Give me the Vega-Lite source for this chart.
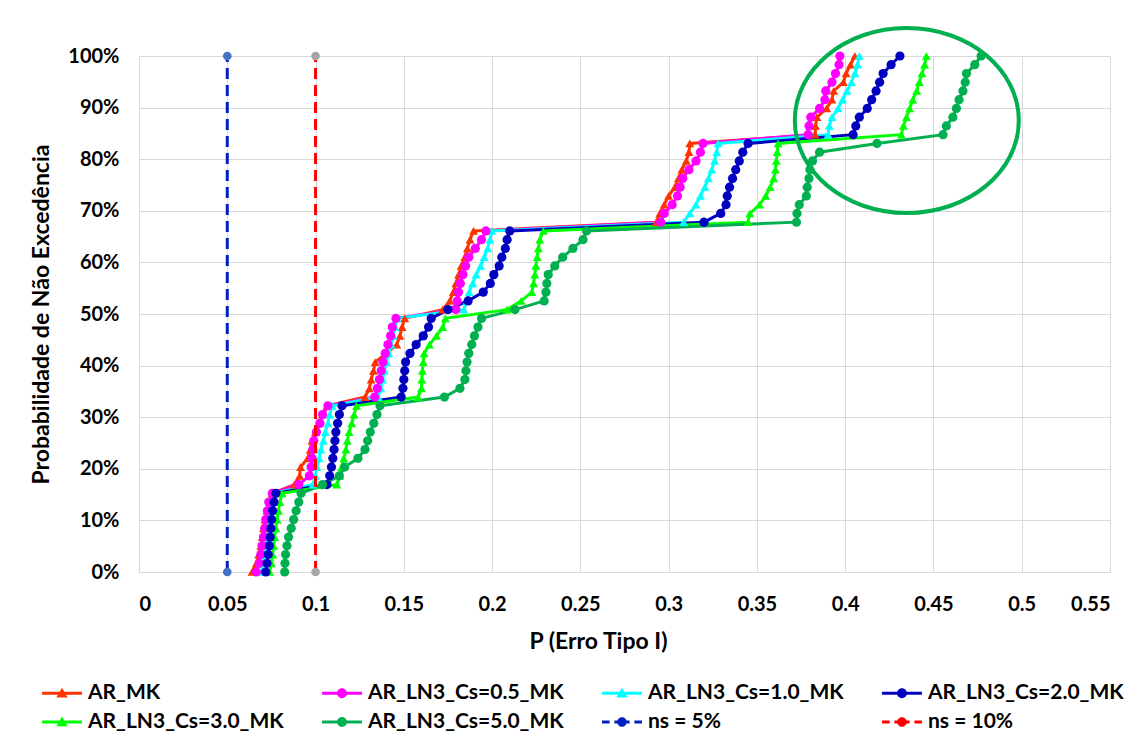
{
"$schema":"https://vega.github.io/schema/vega-lite/v6.json",
"width":971,"height":516,
"autosize":{"type":"none"},
"padding":{"left":139,"top":56,"right":30,"bottom":166},
"background":"white",
"config":{"font":"Lato","view":{"stroke":null},
 "axis":{"ticks":false,"gridColor":"#D9D9D9","gridWidth":1,"labelFont":"Lato","labelFontWeight":"bold","labelFontSize":20,"labelColor":"#000000","titleFont":"Lato","titleFontWeight":"bold","titleFontSize":23,"titleColor":"#000000"}},
"datasets":{
"cdf":[
{"s":"AR_MK","p":0,"x":0.064},{"s":"AR_MK","p":0.0169,"x":0.0665},{"s":"AR_MK","p":0.0339,"x":0.0678},{"s":"AR_MK","p":0.0508,"x":0.069},{"s":"AR_MK","p":0.0678,"x":0.0698},{"s":"AR_MK","p":0.0847,"x":0.0705},{"s":"AR_MK","p":0.1017,"x":0.0713},{"s":"AR_MK","p":0.1186,"x":0.0725},{"s":"AR_MK","p":0.1356,"x":0.074},{"s":"AR_MK","p":0.1525,"x":0.0755},
{"s":"AR_MK","p":0.1695,"x":0.088},{"s":"AR_MK","p":0.1864,"x":0.091},{"s":"AR_MK","p":0.2034,"x":0.0915},{"s":"AR_MK","p":0.2203,"x":0.0955},{"s":"AR_MK","p":0.2373,"x":0.097},{"s":"AR_MK","p":0.2542,"x":0.098},{"s":"AR_MK","p":0.2712,"x":0.1},{"s":"AR_MK","p":0.2881,"x":0.102},{"s":"AR_MK","p":0.3051,"x":0.104},{"s":"AR_MK","p":0.322,"x":0.1065},
{"s":"AR_MK","p":0.339,"x":0.128},{"s":"AR_MK","p":0.3559,"x":0.1305},{"s":"AR_MK","p":0.3729,"x":0.1315},{"s":"AR_MK","p":0.3898,"x":0.1328},{"s":"AR_MK","p":0.4068,"x":0.1338},{"s":"AR_MK","p":0.4237,"x":0.14},{"s":"AR_MK","p":0.4407,"x":0.146},{"s":"AR_MK","p":0.4576,"x":0.1478},{"s":"AR_MK","p":0.4746,"x":0.149},{"s":"AR_MK","p":0.4915,"x":0.1505},
{"s":"AR_MK","p":0.5085,"x":0.172},{"s":"AR_MK","p":0.5254,"x":0.176},{"s":"AR_MK","p":0.5424,"x":0.178},{"s":"AR_MK","p":0.5593,"x":0.1795},{"s":"AR_MK","p":0.5763,"x":0.181},{"s":"AR_MK","p":0.5932,"x":0.1825},{"s":"AR_MK","p":0.6102,"x":0.1845},{"s":"AR_MK","p":0.6271,"x":0.186},{"s":"AR_MK","p":0.6441,"x":0.1875},{"s":"AR_MK","p":0.661,"x":0.1895},
{"s":"AR_MK","p":0.678,"x":0.293},{"s":"AR_MK","p":0.6949,"x":0.295},{"s":"AR_MK","p":0.7119,"x":0.2975},{"s":"AR_MK","p":0.7288,"x":0.3},{"s":"AR_MK","p":0.7458,"x":0.3035},{"s":"AR_MK","p":0.7627,"x":0.3055},{"s":"AR_MK","p":0.7797,"x":0.3075},{"s":"AR_MK","p":0.7966,"x":0.31},{"s":"AR_MK","p":0.8136,"x":0.3115},{"s":"AR_MK","p":0.8305,"x":0.312},
{"s":"AR_MK","p":0.8475,"x":0.383},{"s":"AR_MK","p":0.8644,"x":0.3832},{"s":"AR_MK","p":0.8814,"x":0.384},{"s":"AR_MK","p":0.8983,"x":0.3895},{"s":"AR_MK","p":0.9153,"x":0.3925},{"s":"AR_MK","p":0.9322,"x":0.3935},{"s":"AR_MK","p":0.9492,"x":0.399},{"s":"AR_MK","p":0.9661,"x":0.4005},{"s":"AR_MK","p":0.9831,"x":0.403},{"s":"AR_MK","p":1,"x":0.4055},

{"s":"AR_LN3_Cs=0.5_MK","p":0,"x":0.0665},{"s":"AR_LN3_Cs=0.5_MK","p":0.0169,"x":0.068},{"s":"AR_LN3_Cs=0.5_MK","p":0.0339,"x":0.069},{"s":"AR_LN3_Cs=0.5_MK","p":0.0508,"x":0.0697},{"s":"AR_LN3_Cs=0.5_MK","p":0.0678,"x":0.0705},{"s":"AR_LN3_Cs=0.5_MK","p":0.0847,"x":0.0712},{"s":"AR_LN3_Cs=0.5_MK","p":0.1017,"x":0.0718},{"s":"AR_LN3_Cs=0.5_MK","p":0.1186,"x":0.0727},{"s":"AR_LN3_Cs=0.5_MK","p":0.1356,"x":0.0735},{"s":"AR_LN3_Cs=0.5_MK","p":0.1525,"x":0.0755},
{"s":"AR_LN3_Cs=0.5_MK","p":0.1695,"x":0.0905},{"s":"AR_LN3_Cs=0.5_MK","p":0.1864,"x":0.0965},{"s":"AR_LN3_Cs=0.5_MK","p":0.2034,"x":0.0975},{"s":"AR_LN3_Cs=0.5_MK","p":0.2203,"x":0.098},{"s":"AR_LN3_Cs=0.5_MK","p":0.2373,"x":0.0985},{"s":"AR_LN3_Cs=0.5_MK","p":0.2542,"x":0.099},{"s":"AR_LN3_Cs=0.5_MK","p":0.2712,"x":0.1005},{"s":"AR_LN3_Cs=0.5_MK","p":0.2881,"x":0.1025},{"s":"AR_LN3_Cs=0.5_MK","p":0.3051,"x":0.104},{"s":"AR_LN3_Cs=0.5_MK","p":0.322,"x":0.107},
{"s":"AR_LN3_Cs=0.5_MK","p":0.339,"x":0.1335},{"s":"AR_LN3_Cs=0.5_MK","p":0.3559,"x":0.135},{"s":"AR_LN3_Cs=0.5_MK","p":0.3729,"x":0.1362},{"s":"AR_LN3_Cs=0.5_MK","p":0.3898,"x":0.1372},{"s":"AR_LN3_Cs=0.5_MK","p":0.4068,"x":0.1382},{"s":"AR_LN3_Cs=0.5_MK","p":0.4237,"x":0.1395},{"s":"AR_LN3_Cs=0.5_MK","p":0.4407,"x":0.141},{"s":"AR_LN3_Cs=0.5_MK","p":0.4576,"x":0.1425},{"s":"AR_LN3_Cs=0.5_MK","p":0.4746,"x":0.1435},{"s":"AR_LN3_Cs=0.5_MK","p":0.4915,"x":0.1455},
{"s":"AR_LN3_Cs=0.5_MK","p":0.5085,"x":0.1795},{"s":"AR_LN3_Cs=0.5_MK","p":0.5254,"x":0.1802},{"s":"AR_LN3_Cs=0.5_MK","p":0.5424,"x":0.181},{"s":"AR_LN3_Cs=0.5_MK","p":0.5593,"x":0.182},{"s":"AR_LN3_Cs=0.5_MK","p":0.5763,"x":0.1835},{"s":"AR_LN3_Cs=0.5_MK","p":0.5932,"x":0.185},{"s":"AR_LN3_Cs=0.5_MK","p":0.6102,"x":0.1868},{"s":"AR_LN3_Cs=0.5_MK","p":0.6271,"x":0.1905},{"s":"AR_LN3_Cs=0.5_MK","p":0.6441,"x":0.194},{"s":"AR_LN3_Cs=0.5_MK","p":0.661,"x":0.1965},
{"s":"AR_LN3_Cs=0.5_MK","p":0.678,"x":0.2955},{"s":"AR_LN3_Cs=0.5_MK","p":0.6949,"x":0.2975},{"s":"AR_LN3_Cs=0.5_MK","p":0.7119,"x":0.302},{"s":"AR_LN3_Cs=0.5_MK","p":0.7288,"x":0.305},{"s":"AR_LN3_Cs=0.5_MK","p":0.7458,"x":0.3065},{"s":"AR_LN3_Cs=0.5_MK","p":0.7627,"x":0.308},{"s":"AR_LN3_Cs=0.5_MK","p":0.7797,"x":0.3115},{"s":"AR_LN3_Cs=0.5_MK","p":0.7966,"x":0.3155},{"s":"AR_LN3_Cs=0.5_MK","p":0.8136,"x":0.318},{"s":"AR_LN3_Cs=0.5_MK","p":0.8305,"x":0.3195},
{"s":"AR_LN3_Cs=0.5_MK","p":0.8475,"x":0.379},{"s":"AR_LN3_Cs=0.5_MK","p":0.8644,"x":0.3795},{"s":"AR_LN3_Cs=0.5_MK","p":0.8814,"x":0.3805},{"s":"AR_LN3_Cs=0.5_MK","p":0.8983,"x":0.3855},{"s":"AR_LN3_Cs=0.5_MK","p":0.9153,"x":0.3885},{"s":"AR_LN3_Cs=0.5_MK","p":0.9322,"x":0.389},{"s":"AR_LN3_Cs=0.5_MK","p":0.9492,"x":0.3925},{"s":"AR_LN3_Cs=0.5_MK","p":0.9661,"x":0.3945},{"s":"AR_LN3_Cs=0.5_MK","p":0.9831,"x":0.3965},{"s":"AR_LN3_Cs=0.5_MK","p":1,"x":0.397},

{"s":"AR_LN3_Cs=1.0_MK","p":0,"x":0.0693},{"s":"AR_LN3_Cs=1.0_MK","p":0.0169,"x":0.0703},{"s":"AR_LN3_Cs=1.0_MK","p":0.0339,"x":0.071},{"s":"AR_LN3_Cs=1.0_MK","p":0.0508,"x":0.0717},{"s":"AR_LN3_Cs=1.0_MK","p":0.0678,"x":0.0722},{"s":"AR_LN3_Cs=1.0_MK","p":0.0847,"x":0.0728},{"s":"AR_LN3_Cs=1.0_MK","p":0.1017,"x":0.0735},{"s":"AR_LN3_Cs=1.0_MK","p":0.1186,"x":0.0745},{"s":"AR_LN3_Cs=1.0_MK","p":0.1356,"x":0.0755},{"s":"AR_LN3_Cs=1.0_MK","p":0.1525,"x":0.0768},
{"s":"AR_LN3_Cs=1.0_MK","p":0.1695,"x":0.0985},{"s":"AR_LN3_Cs=1.0_MK","p":0.1864,"x":0.1},{"s":"AR_LN3_Cs=1.0_MK","p":0.2034,"x":0.1008},{"s":"AR_LN3_Cs=1.0_MK","p":0.2203,"x":0.102},{"s":"AR_LN3_Cs=1.0_MK","p":0.2373,"x":0.103},{"s":"AR_LN3_Cs=1.0_MK","p":0.2542,"x":0.1044},{"s":"AR_LN3_Cs=1.0_MK","p":0.2712,"x":0.1055},{"s":"AR_LN3_Cs=1.0_MK","p":0.2881,"x":0.107},{"s":"AR_LN3_Cs=1.0_MK","p":0.3051,"x":0.108},{"s":"AR_LN3_Cs=1.0_MK","p":0.322,"x":0.1095},
{"s":"AR_LN3_Cs=1.0_MK","p":0.339,"x":0.1355},{"s":"AR_LN3_Cs=1.0_MK","p":0.3559,"x":0.137},{"s":"AR_LN3_Cs=1.0_MK","p":0.3729,"x":0.138},{"s":"AR_LN3_Cs=1.0_MK","p":0.3898,"x":0.139},{"s":"AR_LN3_Cs=1.0_MK","p":0.4068,"x":0.1402},{"s":"AR_LN3_Cs=1.0_MK","p":0.4237,"x":0.1415},{"s":"AR_LN3_Cs=1.0_MK","p":0.4407,"x":0.1428},{"s":"AR_LN3_Cs=1.0_MK","p":0.4576,"x":0.144},{"s":"AR_LN3_Cs=1.0_MK","p":0.4746,"x":0.145},{"s":"AR_LN3_Cs=1.0_MK","p":0.4915,"x":0.1462},
{"s":"AR_LN3_Cs=1.0_MK","p":0.5085,"x":0.184},{"s":"AR_LN3_Cs=1.0_MK","p":0.5254,"x":0.1858},{"s":"AR_LN3_Cs=1.0_MK","p":0.5424,"x":0.187},{"s":"AR_LN3_Cs=1.0_MK","p":0.5593,"x":0.189},{"s":"AR_LN3_Cs=1.0_MK","p":0.5763,"x":0.191},{"s":"AR_LN3_Cs=1.0_MK","p":0.5932,"x":0.1935},{"s":"AR_LN3_Cs=1.0_MK","p":0.6102,"x":0.1955},{"s":"AR_LN3_Cs=1.0_MK","p":0.6271,"x":0.1975},{"s":"AR_LN3_Cs=1.0_MK","p":0.6441,"x":0.1988},{"s":"AR_LN3_Cs=1.0_MK","p":0.661,"x":0.1997},
{"s":"AR_LN3_Cs=1.0_MK","p":0.678,"x":0.3085},{"s":"AR_LN3_Cs=1.0_MK","p":0.6949,"x":0.312},{"s":"AR_LN3_Cs=1.0_MK","p":0.7119,"x":0.3155},{"s":"AR_LN3_Cs=1.0_MK","p":0.7288,"x":0.318},{"s":"AR_LN3_Cs=1.0_MK","p":0.7458,"x":0.3205},{"s":"AR_LN3_Cs=1.0_MK","p":0.7627,"x":0.3225},{"s":"AR_LN3_Cs=1.0_MK","p":0.7797,"x":0.3245},{"s":"AR_LN3_Cs=1.0_MK","p":0.7966,"x":0.326},{"s":"AR_LN3_Cs=1.0_MK","p":0.8136,"x":0.3272},{"s":"AR_LN3_Cs=1.0_MK","p":0.8305,"x":0.328},
{"s":"AR_LN3_Cs=1.0_MK","p":0.8475,"x":0.3903},{"s":"AR_LN3_Cs=1.0_MK","p":0.8644,"x":0.391},{"s":"AR_LN3_Cs=1.0_MK","p":0.8814,"x":0.3925},{"s":"AR_LN3_Cs=1.0_MK","p":0.8983,"x":0.396},{"s":"AR_LN3_Cs=1.0_MK","p":0.9153,"x":0.3985},{"s":"AR_LN3_Cs=1.0_MK","p":0.9322,"x":0.401},{"s":"AR_LN3_Cs=1.0_MK","p":0.9492,"x":0.4036},{"s":"AR_LN3_Cs=1.0_MK","p":0.9661,"x":0.4055},{"s":"AR_LN3_Cs=1.0_MK","p":0.9831,"x":0.407},{"s":"AR_LN3_Cs=1.0_MK","p":1,"x":0.408},

{"s":"AR_LN3_Cs=2.0_MK","p":0,"x":0.0718},{"s":"AR_LN3_Cs=2.0_MK","p":0.0169,"x":0.0725},{"s":"AR_LN3_Cs=2.0_MK","p":0.0339,"x":0.0732},{"s":"AR_LN3_Cs=2.0_MK","p":0.0508,"x":0.0738},{"s":"AR_LN3_Cs=2.0_MK","p":0.0678,"x":0.0743},{"s":"AR_LN3_Cs=2.0_MK","p":0.0847,"x":0.0747},{"s":"AR_LN3_Cs=2.0_MK","p":0.1017,"x":0.0751},{"s":"AR_LN3_Cs=2.0_MK","p":0.1186,"x":0.0757},{"s":"AR_LN3_Cs=2.0_MK","p":0.1356,"x":0.0765},{"s":"AR_LN3_Cs=2.0_MK","p":0.1525,"x":0.0775},
{"s":"AR_LN3_Cs=2.0_MK","p":0.1695,"x":0.1065},{"s":"AR_LN3_Cs=2.0_MK","p":0.1864,"x":0.108},{"s":"AR_LN3_Cs=2.0_MK","p":0.2034,"x":0.109},{"s":"AR_LN3_Cs=2.0_MK","p":0.2203,"x":0.1098},{"s":"AR_LN3_Cs=2.0_MK","p":0.2373,"x":0.1105},{"s":"AR_LN3_Cs=2.0_MK","p":0.2542,"x":0.111},{"s":"AR_LN3_Cs=2.0_MK","p":0.2712,"x":0.1115},{"s":"AR_LN3_Cs=2.0_MK","p":0.2881,"x":0.1125},{"s":"AR_LN3_Cs=2.0_MK","p":0.3051,"x":0.1135},{"s":"AR_LN3_Cs=2.0_MK","p":0.322,"x":0.115},
{"s":"AR_LN3_Cs=2.0_MK","p":0.339,"x":0.1485},{"s":"AR_LN3_Cs=2.0_MK","p":0.3559,"x":0.1495},{"s":"AR_LN3_Cs=2.0_MK","p":0.3729,"x":0.15},{"s":"AR_LN3_Cs=2.0_MK","p":0.3898,"x":0.1505},{"s":"AR_LN3_Cs=2.0_MK","p":0.4068,"x":0.151},{"s":"AR_LN3_Cs=2.0_MK","p":0.4237,"x":0.1535},{"s":"AR_LN3_Cs=2.0_MK","p":0.4407,"x":0.157},{"s":"AR_LN3_Cs=2.0_MK","p":0.4576,"x":0.161},{"s":"AR_LN3_Cs=2.0_MK","p":0.4746,"x":0.164},{"s":"AR_LN3_Cs=2.0_MK","p":0.4915,"x":0.1655},
{"s":"AR_LN3_Cs=2.0_MK","p":0.5085,"x":0.175},{"s":"AR_LN3_Cs=2.0_MK","p":0.5254,"x":0.1864},{"s":"AR_LN3_Cs=2.0_MK","p":0.5424,"x":0.195},{"s":"AR_LN3_Cs=2.0_MK","p":0.5593,"x":0.199},{"s":"AR_LN3_Cs=2.0_MK","p":0.5763,"x":0.201},{"s":"AR_LN3_Cs=2.0_MK","p":0.5932,"x":0.204},{"s":"AR_LN3_Cs=2.0_MK","p":0.6102,"x":0.2055},{"s":"AR_LN3_Cs=2.0_MK","p":0.6271,"x":0.2075},{"s":"AR_LN3_Cs=2.0_MK","p":0.6441,"x":0.2085},{"s":"AR_LN3_Cs=2.0_MK","p":0.661,"x":0.21},
{"s":"AR_LN3_Cs=2.0_MK","p":0.678,"x":0.32},{"s":"AR_LN3_Cs=2.0_MK","p":0.6949,"x":0.3295},{"s":"AR_LN3_Cs=2.0_MK","p":0.7119,"x":0.3325},{"s":"AR_LN3_Cs=2.0_MK","p":0.7288,"x":0.3332},{"s":"AR_LN3_Cs=2.0_MK","p":0.7458,"x":0.3345},{"s":"AR_LN3_Cs=2.0_MK","p":0.7627,"x":0.3362},{"s":"AR_LN3_Cs=2.0_MK","p":0.7797,"x":0.338},{"s":"AR_LN3_Cs=2.0_MK","p":0.7966,"x":0.34},{"s":"AR_LN3_Cs=2.0_MK","p":0.8136,"x":0.342},{"s":"AR_LN3_Cs=2.0_MK","p":0.8305,"x":0.345},
{"s":"AR_LN3_Cs=2.0_MK","p":0.8475,"x":0.4045},{"s":"AR_LN3_Cs=2.0_MK","p":0.8644,"x":0.406},{"s":"AR_LN3_Cs=2.0_MK","p":0.8814,"x":0.408},{"s":"AR_LN3_Cs=2.0_MK","p":0.8983,"x":0.4125},{"s":"AR_LN3_Cs=2.0_MK","p":0.9153,"x":0.415},{"s":"AR_LN3_Cs=2.0_MK","p":0.9322,"x":0.4175},{"s":"AR_LN3_Cs=2.0_MK","p":0.9492,"x":0.4195},{"s":"AR_LN3_Cs=2.0_MK","p":0.9661,"x":0.4215},{"s":"AR_LN3_Cs=2.0_MK","p":0.9831,"x":0.426},{"s":"AR_LN3_Cs=2.0_MK","p":1,"x":0.431},

{"s":"AR_LN3_Cs=3.0_MK","p":0,"x":0.074},{"s":"AR_LN3_Cs=3.0_MK","p":0.0169,"x":0.075},{"s":"AR_LN3_Cs=3.0_MK","p":0.0339,"x":0.0757},{"s":"AR_LN3_Cs=3.0_MK","p":0.0508,"x":0.0763},{"s":"AR_LN3_Cs=3.0_MK","p":0.0678,"x":0.0768},{"s":"AR_LN3_Cs=3.0_MK","p":0.0847,"x":0.0775},{"s":"AR_LN3_Cs=3.0_MK","p":0.1017,"x":0.0782},{"s":"AR_LN3_Cs=3.0_MK","p":0.1186,"x":0.079},{"s":"AR_LN3_Cs=3.0_MK","p":0.1356,"x":0.0798},{"s":"AR_LN3_Cs=3.0_MK","p":0.1525,"x":0.081},
{"s":"AR_LN3_Cs=3.0_MK","p":0.1695,"x":0.112},{"s":"AR_LN3_Cs=3.0_MK","p":0.1864,"x":0.1138},{"s":"AR_LN3_Cs=3.0_MK","p":0.2034,"x":0.1148},{"s":"AR_LN3_Cs=3.0_MK","p":0.2203,"x":0.116},{"s":"AR_LN3_Cs=3.0_MK","p":0.2373,"x":0.1172},{"s":"AR_LN3_Cs=3.0_MK","p":0.2542,"x":0.118},{"s":"AR_LN3_Cs=3.0_MK","p":0.2712,"x":0.119},{"s":"AR_LN3_Cs=3.0_MK","p":0.2881,"x":0.1205},{"s":"AR_LN3_Cs=3.0_MK","p":0.3051,"x":0.1218},{"s":"AR_LN3_Cs=3.0_MK","p":0.322,"x":0.1232},
{"s":"AR_LN3_Cs=3.0_MK","p":0.339,"x":0.158},{"s":"AR_LN3_Cs=3.0_MK","p":0.3559,"x":0.16},{"s":"AR_LN3_Cs=3.0_MK","p":0.3729,"x":0.1602},{"s":"AR_LN3_Cs=3.0_MK","p":0.3898,"x":0.1605},{"s":"AR_LN3_Cs=3.0_MK","p":0.4068,"x":0.161},{"s":"AR_LN3_Cs=3.0_MK","p":0.4237,"x":0.1615},{"s":"AR_LN3_Cs=3.0_MK","p":0.4407,"x":0.1645},{"s":"AR_LN3_Cs=3.0_MK","p":0.4576,"x":0.1685},{"s":"AR_LN3_Cs=3.0_MK","p":0.4746,"x":0.172},{"s":"AR_LN3_Cs=3.0_MK","p":0.4915,"x":0.1735},
{"s":"AR_LN3_Cs=3.0_MK","p":0.5085,"x":0.2085},{"s":"AR_LN3_Cs=3.0_MK","p":0.5254,"x":0.2165},{"s":"AR_LN3_Cs=3.0_MK","p":0.5424,"x":0.2225},{"s":"AR_LN3_Cs=3.0_MK","p":0.5593,"x":0.2235},{"s":"AR_LN3_Cs=3.0_MK","p":0.5763,"x":0.2242},{"s":"AR_LN3_Cs=3.0_MK","p":0.5932,"x":0.2248},{"s":"AR_LN3_Cs=3.0_MK","p":0.6102,"x":0.2255},{"s":"AR_LN3_Cs=3.0_MK","p":0.6271,"x":0.2262},{"s":"AR_LN3_Cs=3.0_MK","p":0.6441,"x":0.227},{"s":"AR_LN3_Cs=3.0_MK","p":0.661,"x":0.229},
{"s":"AR_LN3_Cs=3.0_MK","p":0.678,"x":0.345},{"s":"AR_LN3_Cs=3.0_MK","p":0.6949,"x":0.346},{"s":"AR_LN3_Cs=3.0_MK","p":0.7119,"x":0.3515},{"s":"AR_LN3_Cs=3.0_MK","p":0.7288,"x":0.355},{"s":"AR_LN3_Cs=3.0_MK","p":0.7458,"x":0.3575},{"s":"AR_LN3_Cs=3.0_MK","p":0.7627,"x":0.3595},{"s":"AR_LN3_Cs=3.0_MK","p":0.7797,"x":0.3605},{"s":"AR_LN3_Cs=3.0_MK","p":0.7966,"x":0.361},{"s":"AR_LN3_Cs=3.0_MK","p":0.8136,"x":0.3615},{"s":"AR_LN3_Cs=3.0_MK","p":0.8305,"x":0.362},
{"s":"AR_LN3_Cs=3.0_MK","p":0.8475,"x":0.4318},{"s":"AR_LN3_Cs=3.0_MK","p":0.8644,"x":0.433},{"s":"AR_LN3_Cs=3.0_MK","p":0.8814,"x":0.4347},{"s":"AR_LN3_Cs=3.0_MK","p":0.8983,"x":0.4365},{"s":"AR_LN3_Cs=3.0_MK","p":0.9153,"x":0.4383},{"s":"AR_LN3_Cs=3.0_MK","p":0.9322,"x":0.4405},{"s":"AR_LN3_Cs=3.0_MK","p":0.9492,"x":0.442},{"s":"AR_LN3_Cs=3.0_MK","p":0.9661,"x":0.4435},{"s":"AR_LN3_Cs=3.0_MK","p":0.9831,"x":0.445},{"s":"AR_LN3_Cs=3.0_MK","p":1,"x":0.446},

{"s":"AR_LN3_Cs=5.0_MK","p":0,"x":0.0825},{"s":"AR_LN3_Cs=5.0_MK","p":0.0169,"x":0.0827},{"s":"AR_LN3_Cs=5.0_MK","p":0.0339,"x":0.083},{"s":"AR_LN3_Cs=5.0_MK","p":0.0508,"x":0.0838},{"s":"AR_LN3_Cs=5.0_MK","p":0.0678,"x":0.0847},{"s":"AR_LN3_Cs=5.0_MK","p":0.0847,"x":0.0862},{"s":"AR_LN3_Cs=5.0_MK","p":0.1017,"x":0.0876},{"s":"AR_LN3_Cs=5.0_MK","p":0.1186,"x":0.089},{"s":"AR_LN3_Cs=5.0_MK","p":0.1356,"x":0.0905},{"s":"AR_LN3_Cs=5.0_MK","p":0.1525,"x":0.0918},
{"s":"AR_LN3_Cs=5.0_MK","p":0.1695,"x":0.104},{"s":"AR_LN3_Cs=5.0_MK","p":0.1864,"x":0.1135},{"s":"AR_LN3_Cs=5.0_MK","p":0.2034,"x":0.1165},{"s":"AR_LN3_Cs=5.0_MK","p":0.2203,"x":0.124},{"s":"AR_LN3_Cs=5.0_MK","p":0.2373,"x":0.128},{"s":"AR_LN3_Cs=5.0_MK","p":0.2542,"x":0.1295},{"s":"AR_LN3_Cs=5.0_MK","p":0.2712,"x":0.131},{"s":"AR_LN3_Cs=5.0_MK","p":0.2881,"x":0.133},{"s":"AR_LN3_Cs=5.0_MK","p":0.3051,"x":0.1348},{"s":"AR_LN3_Cs=5.0_MK","p":0.322,"x":0.1365},
{"s":"AR_LN3_Cs=5.0_MK","p":0.339,"x":0.173},{"s":"AR_LN3_Cs=5.0_MK","p":0.3559,"x":0.1818},{"s":"AR_LN3_Cs=5.0_MK","p":0.3729,"x":0.1846},{"s":"AR_LN3_Cs=5.0_MK","p":0.3898,"x":0.1852},{"s":"AR_LN3_Cs=5.0_MK","p":0.4068,"x":0.1858},{"s":"AR_LN3_Cs=5.0_MK","p":0.4237,"x":0.1868},{"s":"AR_LN3_Cs=5.0_MK","p":0.4407,"x":0.1885},{"s":"AR_LN3_Cs=5.0_MK","p":0.4576,"x":0.19},{"s":"AR_LN3_Cs=5.0_MK","p":0.4746,"x":0.192},{"s":"AR_LN3_Cs=5.0_MK","p":0.4915,"x":0.194},
{"s":"AR_LN3_Cs=5.0_MK","p":0.5085,"x":0.213},{"s":"AR_LN3_Cs=5.0_MK","p":0.5254,"x":0.2295},{"s":"AR_LN3_Cs=5.0_MK","p":0.5424,"x":0.2305},{"s":"AR_LN3_Cs=5.0_MK","p":0.5593,"x":0.231},{"s":"AR_LN3_Cs=5.0_MK","p":0.5763,"x":0.2318},{"s":"AR_LN3_Cs=5.0_MK","p":0.5932,"x":0.2355},{"s":"AR_LN3_Cs=5.0_MK","p":0.6102,"x":0.24},{"s":"AR_LN3_Cs=5.0_MK","p":0.6271,"x":0.2458},{"s":"AR_LN3_Cs=5.0_MK","p":0.6441,"x":0.2515},{"s":"AR_LN3_Cs=5.0_MK","p":0.661,"x":0.2535},
{"s":"AR_LN3_Cs=5.0_MK","p":0.678,"x":0.3724},{"s":"AR_LN3_Cs=5.0_MK","p":0.6949,"x":0.3727},{"s":"AR_LN3_Cs=5.0_MK","p":0.7119,"x":0.374},{"s":"AR_LN3_Cs=5.0_MK","p":0.7288,"x":0.378},{"s":"AR_LN3_Cs=5.0_MK","p":0.7458,"x":0.3785},{"s":"AR_LN3_Cs=5.0_MK","p":0.7627,"x":0.3795},{"s":"AR_LN3_Cs=5.0_MK","p":0.7797,"x":0.38},{"s":"AR_LN3_Cs=5.0_MK","p":0.7966,"x":0.3815},{"s":"AR_LN3_Cs=5.0_MK","p":0.8136,"x":0.3855},{"s":"AR_LN3_Cs=5.0_MK","p":0.8305,"x":0.418},
{"s":"AR_LN3_Cs=5.0_MK","p":0.8475,"x":0.4554},{"s":"AR_LN3_Cs=5.0_MK","p":0.8644,"x":0.4573},{"s":"AR_LN3_Cs=5.0_MK","p":0.8814,"x":0.461},{"s":"AR_LN3_Cs=5.0_MK","p":0.8983,"x":0.463},{"s":"AR_LN3_Cs=5.0_MK","p":0.9153,"x":0.4645},{"s":"AR_LN3_Cs=5.0_MK","p":0.9322,"x":0.4667},{"s":"AR_LN3_Cs=5.0_MK","p":0.9492,"x":0.468},{"s":"AR_LN3_Cs=5.0_MK","p":0.9661,"x":0.4687},{"s":"AR_LN3_Cs=5.0_MK","p":0.9831,"x":0.4734},{"s":"AR_LN3_Cs=5.0_MK","p":1,"x":0.477},

{"s":"ns = 5%","p":0,"x":0.05},{"s":"ns = 5%","p":1,"x":0.05},
{"s":"ns = 10%","p":0,"x":0.1},{"s":"ns = 10%","p":1,"x":0.1}
],
"ann":[{"x":0.4349,"p":0.875}]
},
"data":{"name":"cdf"},
"layer":[
{"transform":[{"filter":"datum.s != 'ns = 5%' && datum.s != 'ns = 10%'"}],
 "mark":{"type":"line","strokeWidth":3},
 "encoding":{
  "x":{"field":"x","type":"quantitative","scale":{"domain":[0,0.55],"nice":false,"zero":false},
   "axis":{"values":[0,0.05,0.1,0.15,0.2,0.25,0.3,0.35,0.4,0.45,0.5,0.55],"format":".2~f","title":"P (Erro Tipo I)","labelPadding":22,"titlePadding":16,"domainColor":"#D9D9D9","titleX":459}},
  "y":{"field":"p","type":"quantitative","scale":{"domain":[0,1],"nice":false},
   "axis":{"values":[0,0.1,0.2,0.3,0.4,0.5,0.6,0.7,0.8,0.9,1],"format":".0%","title":"Probabilidade de Não Excedência","labelPadding":20,"titlePadding":14,"domain":false}},
  "color":{"field":"s","type":"nominal",
   "scale":{"domain":["AR_MK","AR_LN3_Cs=0.5_MK","AR_LN3_Cs=1.0_MK","AR_LN3_Cs=2.0_MK","AR_LN3_Cs=3.0_MK","AR_LN3_Cs=5.0_MK","ns = 5%","ns = 10%"],
            "range":["#FF3300","#FF00FF","#00FFFF","#0000C0","#00FF00","#00B050","#0020C0","#FF0000"]},
   "legend":{"orient":"none","legendX":-87.5,"legendY":626.5,"direction":"horizontal","columns":4,"title":null,"padding":0,"columnPadding":37,"rowPadding":7,"gridAlign":"all",
     "symbolSize":361,"symbolStrokeWidth":0,"symbolOpacity":1,"labelFont":"Lato","labelFontSize":21,"labelFontWeight":"bold","labelColor":"#000000","labelOffset":15.5,"labelLimit":400,
     "encode":{"symbols":{"update":{
        "shape":{"signal":"indexof(['AR_MK','AR_LN3_Cs=1.0_MK','AR_LN3_Cs=3.0_MK'], datum.value) >= 0 ? 'M-2.1,-0.17H2.1V0.17H-2.1Z M0,-0.58L0.6,0.45H-0.6Z' : (indexof(['ns = 5%','ns = 10%'], datum.value) >= 0 ? 'M-2.1,-0.17H-1.3V0.17H-2.1Z M-0.8,-0.17H0.8V0.17H-0.8Z M1.3,-0.17H2.1V0.17H1.3Z M-0.5,0A0.5,0.5,0,1,1,0.5,0A0.5,0.5,0,1,1,-0.5,0Z' : 'M-2.1,-0.17H2.1V0.17H-2.1Z M-0.52,0A0.52,0.52,0,1,1,0.52,0A0.52,0.52,0,1,1,-0.52,0Z')"},
        "fill":{"scale":"color","field":"value"},
        "strokeWidth":{"value":0},
        "opacity":{"value":1}}}}}},
  "order":{"field":"p","type":"quantitative"}}},
{"transform":[{"filter":"indexof(['AR_MK','AR_LN3_Cs=1.0_MK','AR_LN3_Cs=3.0_MK'], datum.s) >= 0"}],
 "mark":{"type":"point","shape":"triangle-up","filled":true,"size":80,"opacity":1},
 "encoding":{"x":{"field":"x","type":"quantitative"},"y":{"field":"p","type":"quantitative"},"color":{"field":"s","type":"nominal"}}},
{"transform":[{"filter":"indexof(['AR_LN3_Cs=0.5_MK','AR_LN3_Cs=2.0_MK','AR_LN3_Cs=5.0_MK'], datum.s) >= 0"}],
 "mark":{"type":"point","shape":"circle","filled":true,"size":85,"opacity":1},
 "encoding":{"x":{"field":"x","type":"quantitative"},"y":{"field":"p","type":"quantitative"},"color":{"field":"s","type":"nominal"}}},
{"transform":[{"filter":"datum.s == 'ns = 5%' || datum.s == 'ns = 10%'"}],
 "mark":{"type":"line","strokeWidth":3,"strokeDash":[11,6]},
 "encoding":{"x":{"field":"x","type":"quantitative"},"y":{"field":"p","type":"quantitative"},"color":{"field":"s","type":"nominal"},"order":{"field":"p","type":"quantitative"}}},
{"transform":[{"filter":"datum.s == 'ns = 5%' || datum.s == 'ns = 10%'"}],
 "mark":{"type":"point","shape":"circle","filled":true,"size":75,"opacity":1},
 "encoding":{"x":{"field":"x","type":"quantitative"},"y":{"field":"p","type":"quantitative"},
  "fill":{"field":"s","type":"nominal","scale":{"domain":["ns = 5%","ns = 10%"],"range":["#4472C4","#A5A5A5"]},"legend":null}}},
{"data":{"name":"ann"},
 "mark":{"type":"point","shape":"M-1,0A1,0.826,0,1,1,1,0A1,0.826,0,1,1,-1,0Z","filled":false,"size":50176,"strokeWidth":4,"color":"#00B050","opacity":1},
 "encoding":{"x":{"field":"x","type":"quantitative"},"y":{"field":"p","type":"quantitative"}}}
]
}
